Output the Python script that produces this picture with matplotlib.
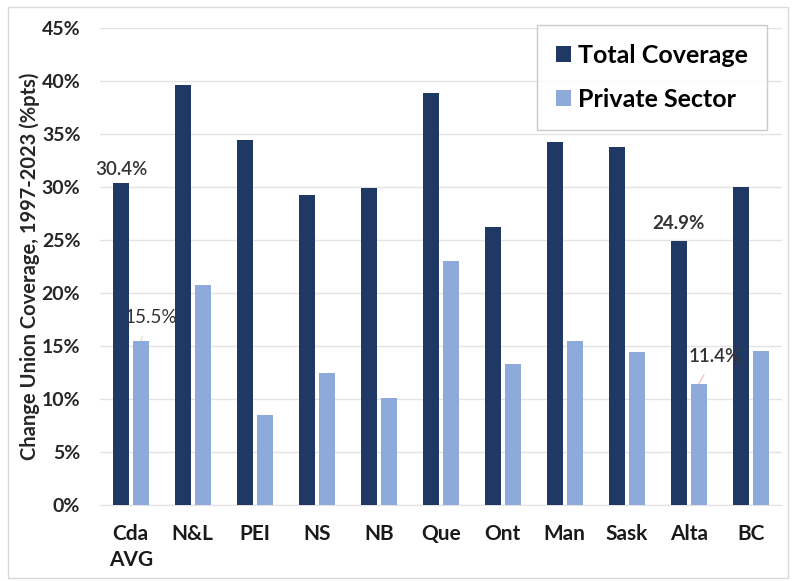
import matplotlib
matplotlib.use("Agg")
import matplotlib.pyplot as plt
import numpy as np
from matplotlib.patches import Rectangle

# values (change in union coverage, % pts)
provinces = ["Cda\nAVG", "N&L", "PEI", "NS", "NB", "Que", "Ont", "Man", "Sask", "Alta", "BC"]
total_cov = [30.4, 39.6, 34.4, 29.2, 29.9, 38.9, 26.2, 34.2, 33.8, 24.9, 30.0]
private_sec = [15.5, 20.7, 8.5, 12.4, 10.1, 23.0, 13.3, 15.5, 14.4, 11.4, 14.5]
yticks = [0, 5, 10, 15, 20, 25, 30, 35, 40, 45]

dark = "#1f3864"
light = "#8eaadb"

plt.rcParams["font.family"] = ["Lato", "DejaVu Sans"]

fig = plt.figure(figsize=(7.92, 5.81), dpi=100)
ax = fig.add_axes([0.126, 0.131, 0.861, 0.821])

x = np.arange(len(provinces))
w = 0.26
ax.bar(x - 0.16, total_cov, w, color=dark, label="Total Coverage", zorder=3)
ax.bar(x + 0.16, private_sec, w, color=light, label="Private Sector", zorder=3)

ax.set_ylim(0, 45)
ax.set_xlim(-0.5, len(provinces) - 0.5)
ax.set_yticks(yticks)
ax.set_yticklabels([f"{v}%" for v in yticks], fontsize=14, fontweight="bold", color="#262626")
ax.set_xticks(x)
ax.set_xticklabels(provinces, fontsize=15, fontweight="bold", color="#1a1a1a", linespacing=1.35,
                   va="top")
ax.tick_params(axis="y", length=0, pad=14)
ax.tick_params(axis="x", length=0, pad=14)
ax.yaxis.grid(True, color="#e3e3e3", lw=1, zorder=0)
for s in ["top", "right", "left"]:
    ax.spines[s].set_visible(False)
ax.spines["bottom"].set_color("#e3e3e3")

ax.set_ylabel("Change Union Coverage, 1997-2023 (%pts)", fontsize=14.5, fontweight="bold",
              color="#262626", labelpad=1)

# data labels
ax.text(x[0] - 0.16, total_cov[0] + 0.4, f"{total_cov[0]}%", ha="center", va="bottom",
        fontsize=13.5, color="#333333", fontweight="semibold")
ax.annotate(f"{private_sec[0]}%", xy=(x[0] + 0.16, private_sec[0]), xytext=(0.32, 17.7),
            ha="center", va="center", fontsize=13.5, color="#333333",
            arrowprops=dict(arrowstyle="-", color="#d9d9d9", lw=0.8, shrinkA=6, shrinkB=0))
ax.text(x[9] - 0.16, total_cov[9] + 0.8, f"{total_cov[9]}%", ha="center", va="bottom",
        fontsize=13.5, color="#333333", fontweight="bold")
ax.annotate(f"{private_sec[9]}%", xy=(x[9] + 0.16, private_sec[9]), xytext=(9.42, 14.0),
            ha="center", va="center", fontsize=13.5, color="#333333", fontweight="semibold",
            arrowprops=dict(arrowstyle="-", color="#f2b8b8", lw=0.8, shrinkA=6, shrinkB=0))

leg = ax.legend(loc="upper right", bbox_to_anchor=(0.978, 1.006),
                prop={"weight": "bold", "size": 18},
                frameon=True, fancybox=False, edgecolor="#bfbfbf", handlelength=0.6, handleheight=0.6,
                handletextpad=0.3, borderpad=0.75, labelspacing=0.85, borderaxespad=0)
leg.get_frame().set_linewidth(1)

fig.patches.append(Rectangle((0.01, 0.005), 0.985, 0.983, transform=fig.transFigure,
                             fill=False, edgecolor="#d9d9d9", lw=1))

fig.savefig("out.png", dpi=100)
